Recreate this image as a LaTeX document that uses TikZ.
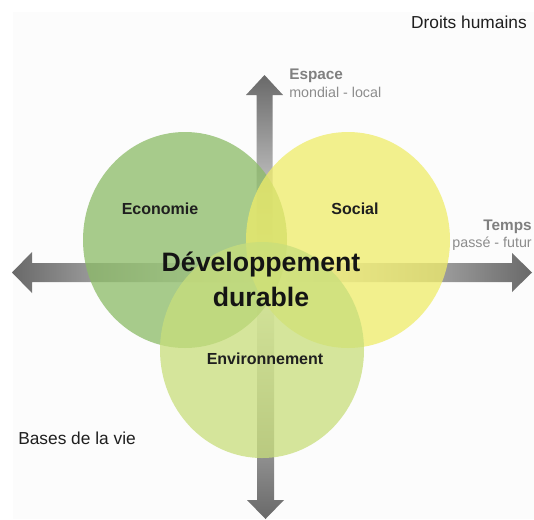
\documentclass[tikz,border=0pt]{standalone}
\usepackage{fontspec}
\setmainfont{Liberation Sans}
\definecolor{arrowgray}{RGB}{105,105,105}
\definecolor{ecocol}{RGB}{139,187,102}
\definecolor{soccol}{RGB}{239,236,105}
\definecolor{envcol}{RGB}{200,222,123}
\definecolor{bgcol}{RGB}{252,252,252}
\begin{document}
\begin{tikzpicture}[x=0.75pt,y=-0.75pt,
  lbl/.style={font=\bfseries\fontsize{12}{14}\selectfont, text=black!88, inner sep=0},
  title/.style={font=\bfseries\fontsize{20}{24}\selectfont, text=black!92, inner sep=0},
  axis/.style={font=\bfseries\fontsize{11.5}{13}\selectfont, text=black!50, inner sep=0},
  axsub/.style={font=\fontsize{10.7}{12}\selectfont, text=black!45, inner sep=0},
  corner/.style={font=\fontsize{13}{15}\selectfont, text=black!88, inner sep=0},
  halfv/.style={top color=arrowgray, middle color=arrowgray!55!white, bottom color=white},
  halfh/.style={left color=arrowgray, middle color=arrowgray!55!white, right color=white},
  disc/.style={fill opacity=0.75}
]
\useasboundingbox (0,0) rectangle (534,519);
\fill[bgcol] (13,12) rectangle (534,519);
% axes (four half arrows fading to the centre)
\shade[halfv] (256.5,272) -- (256.5,95) -- (246,95) -- (264.5,75) -- (283,95) -- (272.5,95) -- (272.5,272) -- cycle;
\shade[top color=white, middle color=arrowgray!55!white, bottom color=arrowgray] (257,272) -- (257,500) -- (247,500) -- (265.5,519) -- (284,500) -- (274,500) -- (274,272) -- cycle;
\shade[halfh] (265,263) -- (32,263) -- (32,252) -- (12,272.5) -- (32,293) -- (32,282) -- (265,282) -- cycle;
\shade[left color=white, middle color=arrowgray!55!white, right color=arrowgray] (265,263) -- (512,263) -- (512,253) -- (532,272.5) -- (512,292) -- (512,282) -- (265,282) -- cycle;
% circles
\fill[ecocol, disc] (185,240) ellipse [x radius=102, y radius=108];
\fill[soccol, disc] (348,240) ellipse [x radius=102, y radius=108];
\fill[envcol, disc] (262,350) ellipse [x radius=102, y radius=108];
% labels
\node[lbl] (eco) at (160,209) {Economie};
\node[lbl] (soc) at (355,209) {Social};
\node[lbl] (env) at (265,359) {Environnement};
\node[title] (dev) at (261,264) {Développement};
\node[title] (dur) at (261,297) {durable};
\node[axis, anchor=base west] (esp) at (289,79) {Espace};
\node[axsub, anchor=base west] (ml) at (289,97) {mondial - local};
\node[axis, anchor=base east] (tmp) at (532,230) {Temps};
\node[axsub, anchor=base east] (pf) at (532,247) {passé - futur};
\node[corner, anchor=base east] (dh) at (527,28) {Droits humains};
\node[corner, anchor=base west] (bv) at (18,444) {Bases de la vie};
\end{tikzpicture}
\end{document}
